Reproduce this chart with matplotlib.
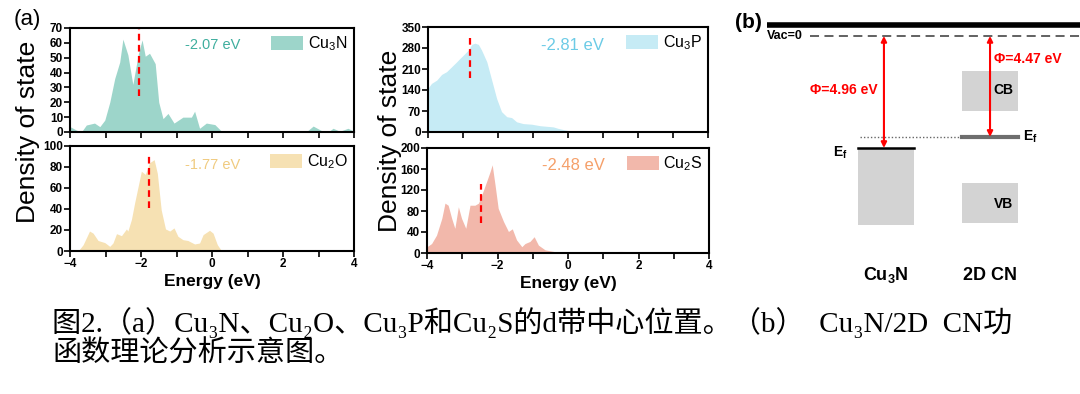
import numpy as np
import matplotlib
matplotlib.use('Agg')
from matplotlib import pyplot as plt
from matplotlib.patches import Rectangle

plt.rcParams['font.family'] = ['Liberation Sans', 'DejaVu Sans']
plt.rcParams['mathtext.default'] = 'regular'

# ---- d-band DOS ----
cu3n_e = [-4.0, -3.82, -3.68, -3.54, -3.31, -3.16, -3.02, -2.88, -2.74, -2.6, -2.51, -2.37,
          -2.23, -2.08, -1.97, -1.88, -1.76, -1.6, -1.5, -1.38, -1.24, -1.07, -0.82, -0.58,
          -0.49, -0.35, -0.16, 0.08, 0.26, 0.5, 2.05, 2.15, 2.25, 2.7, 2.85, 3.08, 3.3, 3.41,
          3.6, 3.83, 4.0]
cu3n_dos = [3.6, 1.3, 0, 4.7, 6, 3.6, 8, 20, 36, 47, 62.5, 52,
            32, 52, 62, 51, 53, 46, 20, 9, 12.5, 6, 10, 10,
            14, 2.5, 6, 5, 0.7, 0, 0, 1, 0, 1, 4, 1, 0.5, 2.5,
            0.5, 2.5, 0.5]

cu2o_e = [-4.0, -3.77, -3.63, -3.45, -3.35, -3.21, -3.02, -2.88, -2.79, -2.69, -2.55, -2.41,
          -2.37, -2.27, -2.18, -2.08, -1.99, -1.88, -1.76, -1.63, -1.54, -1.43, -1.31, -1.19,
          -1.07, -0.96, -0.82, -0.68, -0.49, -0.35, -0.25, -0.07, 0.03, 0.15, 0.26, 0.5,
          2.1, 2.2, 2.4, 2.8, 2.9, 3.0, 3.6, 3.7, 3.8, 4.0]
cu2o_dos = [0, 0, 6, 19, 17, 10, 8, 4.4, 7.6, 16.5, 14.6, 21,
            19, 30, 45.7, 61.6, 76, 73, 84, 87, 74, 39, 21, 19,
            22, 14, 10.8, 10, 6.7, 7.6, 15.6, 19.7, 17, 6, 0.6, 0,
            0, 1, 0.5, 0.5, 1.5, 0.3, 0.3, 1.5, 0.3, 0]

cu3p_e = [-4.0, -3.9, -3.75, -3.61, -3.47, -3.32, -3.18, -3.09, -2.94, -2.85, -2.75, -2.66,
          -2.56, -2.47, -2.32, -2.18, -2.04, -1.9, -1.75, -1.61, -1.47, -1.28, -1.04, -0.8,
          -0.61, -0.42, -0.28, -0.09, 0.1, 0.39, 1.0, 1.6, 2.2, 2.8, 3.4, 4.0]
cu3p_dos = [146, 162, 173, 192, 201, 218, 234, 245, 262, 273, 292, 296,
            292, 273, 234, 173, 112, 68, 51, 48, 34, 28, 26, 21,
            19, 17, 12, 7, 3, 1, 2, 1, 2, 1, 2, 1]

cu2s_e = [-4.0, -3.87, -3.73, -3.58, -3.49, -3.4, -3.3, -3.21, -3.11, -3.02, -2.9, -2.78,
          -2.64, -2.54, -2.45, -2.31, -2.21, -2.15, -2.07, -1.98, -1.83, -1.69, -1.58, -1.46,
          -1.31, -1.22, -1.08, -0.96, -0.84, -0.65, -0.37, -0.09, 0.5, 1.5, 2.6, 3.2, 3.5, 4.0]
cu2s_dos = [12, 18, 34, 66, 95, 91, 66, 47, 88, 66, 47, 91,
            91, 95, 110, 136, 155, 168, 130, 85, 60, 41, 46, 25,
            12, 18, 22, 31, 15, 6, 2.5, 1.3, 1.5, 3, 1.5, 1.5, 1.5, 0.5]

names = ['Cu$_3$N', 'Cu$_2$O', 'Cu$_3$P', 'Cu$_2$S']
d_centers = [-2.07, -1.77, -2.81, -2.48]
ymaxes = [70, 100, 350, 200]
ysteps = [10, 20, 70, 40]
dash_ranges = [(24, 69), (41, 90), (181, 312), (57, 131)]
fills = ['#9dd5ca', '#f6e1b3', '#c6ebf5', '#f2b8ab']
txt_colors = ['#3fae9e', '#f0cb80', '#6ccbe6', '#f5a06a']

# ---- panel (b) energy levels (eV, vacuum = 0) ----
vac_level = 0.0
cu3n_ef = -4.96
cn_ef = -4.47
cn_cb = (-3.32, -1.55)
cn_vb = (-8.3, -6.5)
cu3n_band_bottom = -8.37

W, H = 1080, 394
fig = plt.figure(figsize=(W / 100, H / 100), dpi=100)

def px(l, t, r, b):
    return [l / W, 1 - b / H, (r - l) / W, (b - t) / H]

boxes = [px(70, 28, 354, 132), px(70, 146, 354, 251),
         px(428, 27, 708, 132), px(427, 148, 709, 253)]
txt_pos = [(0.503, 0.837), (0.503, 0.82), (0.515, 0.82), (0.518, 0.83)]
txt_size = [10.5, 10.5, 12, 12]
data = [(cu3n_e, cu3n_dos), (cu2o_e, cu2o_dos), (cu3p_e, cu3p_dos), (cu2s_e, cu2s_dos)]

for i in range(4):
    ax = fig.add_axes(boxes[i])
    e, d = data[i]
    ax.fill_between(e, d, 0, color=fills[i], lw=0, label=names[i])
    ax.vlines(d_centers[i], dash_ranges[i][0], dash_ranges[i][1], color='red',
              linestyles=(0, (3, 2)), lw=1.6)
    ax.text(txt_pos[i][0], txt_pos[i][1], '%.2f eV' % d_centers[i], color=txt_colors[i],
            fontsize=txt_size[i], ha='center', va='center', transform=ax.transAxes)
    ax.set_xlim(-4, 4)
    ax.set_ylim(0, ymaxes[i])
    ax.set_yticks(np.arange(0, ymaxes[i] + 1, ysteps[i]))
    ax.legend(loc='upper right', frameon=False, fontsize=11.5, handlelength=2.0,
              handleheight=1.0, handletextpad=0.3, borderaxespad=0.2, borderpad=0.2)
    for s in ax.spines.values():
        s.set_linewidth(1.5)
    ax.tick_params(which='both', direction='out', length=4, width=1.2, labelsize=8.5, pad=1)
    if i % 2 == 0:
        ax.set_xticks(range(-4, 5))
        ax.set_xticklabels([])
    else:
        ax.set_xticks(range(-4, 5, 2))
        ax.set_xticks(range(-3, 4, 2), minor=True)
        ax.set_xlabel('Energy (eV)', fontsize=12.5, fontweight='bold', labelpad=3)
    plt.setp(ax.get_xticklabels() + ax.get_yticklabels(), fontweight='bold')

fig.text(28 / W, 1 - 132 / H, 'Density of state', rotation=90, fontsize=19,
         ha='center', va='center')
fig.text(390 / W, 1 - 141 / H, 'Density of state', rotation=90, fontsize=19,
         ha='center', va='center')
fig.text(14 / W, 1 - 20 / H, '(a)', fontsize=16, ha='left', va='center')

# ---- panel (b) ----
axb = fig.add_axes([730 / W, 1 - 290 / H, 350 / W, 280 / H])
axb.set_xlim(-0.5, 2.865)
axb.set_ylim(-11.25, 1.15)
axb.axis('off')
hw = 0.27
axb.plot([-0.144, 2.865], [0.5, 0.5], color='black', lw=4, solid_capstyle='butt')
axb.plot([0.27, 2.865], [vac_level, vac_level], color='#555555', lw=1.3, dashes=(5, 3))
axb.text(-0.144, vac_level, 'Vac=0', fontsize=9, fontweight='bold', ha='left', va='center')
axb.add_patch(Rectangle((1 - hw, cu3n_band_bottom), 2 * hw, cu3n_ef - cu3n_band_bottom,
                        color='#d3d3d3', lw=0))
axb.add_patch(Rectangle((2 - hw, cn_cb[0]), 2 * hw, cn_cb[1] - cn_cb[0], color='#d3d3d3', lw=0))
axb.add_patch(Rectangle((2 - hw, cn_vb[0]), 2 * hw, cn_vb[1] - cn_vb[0], color='#d3d3d3', lw=0))
axb.plot([1 - hw, 1 + hw], [cu3n_ef, cu3n_ef], color='black', lw=1.8)
axb.plot([2 - hw, 2 + hw], [cn_ef, cn_ef], color='#6e6e6e', lw=3)
axb.plot([0.75, 2 - hw], [cn_ef, cn_ef], color='#666666', lw=1, linestyle=(0, (1, 1.5)))
for x, ef in [(0.98, cu3n_ef), (2.0, cn_ef)]:
    axb.annotate('', xy=(x, ef), xytext=(x, vac_level),
                 arrowprops=dict(arrowstyle='<|-|>', color='red', lw=1.5,
                                 mutation_scale=8, shrinkA=0, shrinkB=0))
axb.text(0.92, -2.39, '\u03a6=%.2f eV' % -cu3n_ef, color='red', fontsize=10,
         fontweight='bold', ha='right', va='center')
axb.text(2.04, -1.02, '\u03a6=%.2f eV' % -cn_ef, color='red', fontsize=10,
         fontweight='bold', ha='left', va='center')
axb.text(2.13, -2.39, 'CB', fontsize=10, fontweight='bold', ha='center', va='center')
axb.text(2.13, -7.43, 'VB', fontsize=10, fontweight='bold', ha='center', va='center')
axb.text(0.635, cu3n_ef - 0.2, 'E$_f$', fontsize=10, fontweight='bold', ha='right', va='center')
axb.text(2.32, cn_ef, 'E$_f$', fontsize=10, fontweight='bold', ha='left', va='center')
axb.text(1.0, -10.6, 'Cu$_3$N', fontsize=13, fontweight='bold', ha='center', va='center')
axb.text(2.0, -10.6, '2D CN', fontsize=13, fontweight='bold', ha='center', va='center')
fig.text(735 / W, 1 - 22 / H, '(b)', fontsize=15, fontweight='bold', ha='left', va='center')

# ---- caption ----
cap_font = ['Liberation Serif', 'Noto Sans CJK SC', 'DejaVu Serif']
fig.text(52 / W, 1 - 323 / H,
         '图2.（a）Cu\u2083N、Cu\u2082O、Cu\u2083P和Cu\u2082S的d带中心位置。（b）  Cu\u2083N/2D  CN功',
         family=cap_font, fontsize=21, ha='left', va='center')
fig.text(52 / W, 1 - 354 / H, '函数理论分析示意图。',
         family=cap_font, fontsize=21, ha='left', va='center')

fig.savefig('out.png', dpi=100)
